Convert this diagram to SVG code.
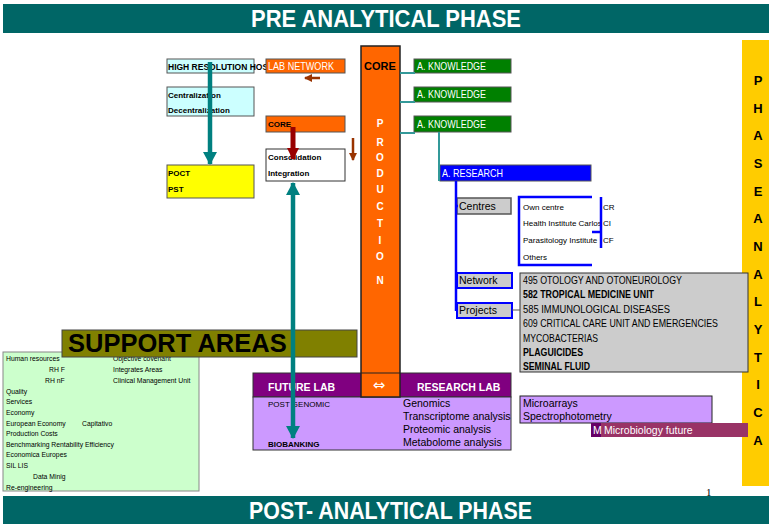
<svg xmlns="http://www.w3.org/2000/svg" width="772" height="527" viewBox="0 0 772 527">
<style>
text{font-family:"Liberation Sans",Arial,sans-serif;fill:#000}
.n{font-family:"Liberation Sans Narrow","Liberation Sans",Arial,sans-serif}
.w{fill:#fff}
.b{font-weight:bold}
.s8{font-size:8px}
.s7{font-size:6.8px}
.s10{font-size:10.5px}
.bx{stroke:#555;stroke-width:1}
.tl{stroke:#008080;stroke-width:4.5;fill:none}
.tn{stroke:#339999;stroke-width:2;fill:none}
.bl{stroke:#0000ff;stroke-width:2.5;fill:none}
.ph{font-size:13px;font-weight:bold;text-anchor:middle}
.pr{font-size:10px;font-weight:bold;text-anchor:middle;fill:#fff}
</style>
<defs>
<marker id="ta" markerUnits="userSpaceOnUse" viewBox="0 0 14 14" markerWidth="14" markerHeight="14" refX="12" refY="7" orient="auto-start-reverse"><path d="M0,0 L13,7 L0,14 Z" fill="#008080"/></marker>
<marker id="ra" markerUnits="userSpaceOnUse" viewBox="0 0 12 12" markerWidth="12" markerHeight="12" refX="11" refY="6" orient="auto"><path d="M0,0 L12,6 L0,12 Z" fill="#990000"/></marker>
<marker id="ba" markerUnits="userSpaceOnUse" viewBox="0 0 8 8" markerWidth="8" markerHeight="8" refX="7" refY="4" orient="auto"><path d="M0,0 L8,4 L0,8 Z" fill="#993300"/></marker>
</defs>

<g id="pre-banner"><rect x="3" y="4" width="766" height="29" fill="#006666"/><text x="251" y="26.5" class="w b" font-size="23" textLength="270" lengthAdjust="spacingAndGlyphs">PRE  ANALYTICAL PHASE</text></g>
<g id="post-banner"><rect x="3" y="496" width="766" height="28" fill="#006666"/><text x="249" y="518.5" class="w b" font-size="23" textLength="283" lengthAdjust="spacingAndGlyphs">POST- ANALYTICAL PHASE</text></g>
<text x="706" y="496" font-size="11" style="font-family:'Liberation Serif',serif">1</text>

<g id="phase-analytica"><rect x="742" y="40" width="27" height="446" fill="#ffcc00"/>
<text class="ph" x="758" y="85">P</text><text class="ph" x="758" y="113">H</text><text class="ph" x="758" y="140">A</text><text class="ph" x="758" y="168">S</text><text class="ph" x="758" y="196">E</text><text class="ph" x="758" y="223">A</text><text class="ph" x="758" y="251">N</text><text class="ph" x="758" y="279">A</text><text class="ph" x="758" y="306">L</text><text class="ph" x="758" y="334">Y</text><text class="ph" x="758" y="362">T</text><text class="ph" x="758" y="389">I</text><text class="ph" x="758" y="417">C</text><text class="ph" x="758" y="445">A</text></g>

<g id="high-resolution"><rect x="167" y="59" width="87" height="14" fill="#ccffff" class="bx"/><text x="168" y="70" class="b" font-size="8.5">HIGH RESOLUTION HOS</text></g>
<g id="lab-network"><rect x="266" y="59" width="79" height="14" fill="#ff6600" class="bx"/><text x="268" y="70" class="n w s10" textLength="66" lengthAdjust="spacingAndGlyphs">LAB NETWORK</text></g>
<g id="centralization"><rect x="167" y="87" width="87" height="29" fill="#ccffff" class="bx"/><text x="168" y="98" class="b s8">Centralization</text><text x="168" y="113" class="b s8">Decentralization</text></g>
<g id="core-small"><rect x="266" y="116" width="79" height="16" fill="#ff6600" class="bx"/><text x="268" y="127" class="b s8">CORE</text></g>
<g id="consolidation"><rect x="266" y="149" width="79" height="32" fill="#fff" stroke="#333"/><text x="268" y="160" class="b s8">Consolidation</text><text x="268" y="176" class="b s8">Integration</text></g>
<g id="poct"><rect x="167" y="165" width="87" height="33" fill="#ffff00" class="bx"/><text x="168" y="176" class="b s8">POCT</text><text x="168" y="192" class="b s8">PST</text></g>

<g id="support-list"><rect x="3" y="352" width="196" height="139" fill="#ccffcc" stroke="#888"/>
<text class="s7" x="6" y="361">Human resources</text><text class="s7" x="113" y="361">Objective covenant</text>
<text class="s7" x="49" y="372">RH F</text><text class="s7" x="113" y="372">Integrates Areas</text>
<text class="s7" x="45" y="383">RH nF</text><text class="s7" x="113" y="383">Clinical Management Unit</text>
<text class="s7" x="6" y="394">Quality</text>
<text class="s7" x="6" y="404">Services</text>
<text class="s7" x="6" y="415">Economy</text>
<text class="s7" x="6" y="426">European Economy</text><text class="s7" x="82" y="426">Capitativo</text>
<text class="s7" x="6" y="436">Production Costs</text>
<text class="s7" x="6" y="447">Benchmarking Rentability Efficiency</text>
<text class="s7" x="6" y="457">Economica Europes</text>
<text class="s7" x="6" y="468">SIL LIS</text>
<text class="s7" x="33" y="479">Data Minig</text>
<text class="s7" x="6" y="490">Re-engineering</text></g>
<g id="support-areas"><rect x="62" y="330" width="295" height="27" fill="#808000" stroke="#444"/><text x="68" y="352" class="b" font-size="25.5">SUPPORT AREAS</text></g>

<g id="future-lab"><rect x="253" y="373" width="258" height="24" fill="#800080" stroke="#333"/><rect x="253" y="397" width="258" height="53" fill="#cc99ff" stroke="#333"/>
<text x="268" y="391" class="w b s10">FUTURE LAB</text><text x="417" y="391" class="w b s10">RESEARCH LAB</text>
<text x="268" y="407" class="s8">POST GENOMIC</text><text x="268" y="447" class="b s8">BIOBANKING</text>
<text x="403" y="407" class="s10">Genomics</text><text x="403" y="420" class="s10">Transcriptome analysis</text><text x="403" y="433" class="s10">Proteomic analysis</text><text x="403" y="446" class="s10">Metabolome analysis</text></g>

<g id="production"><rect x="361" y="46" width="39" height="351" fill="#ff6600" stroke="#222" stroke-width="1.5"/><line x1="361" y1="373" x2="400" y2="373" stroke="#222" stroke-width="1.2"/>
<text x="380" y="70" font-size="11" class="b" text-anchor="middle">CORE</text>
<text class="pr" x="380" y="127">P</text><text class="pr" x="380" y="146">R</text><text class="pr" x="380" y="161">O</text><text class="pr" x="380" y="177">D</text><text class="pr" x="380" y="193">U</text><text class="pr" x="380" y="210">C</text><text class="pr" x="380" y="227">T</text><text class="pr" x="380" y="244">I</text><text class="pr" x="380" y="260">O</text><text class="pr" x="380" y="284">N</text>
<text x="379" y="390" class="w" font-size="15" text-anchor="middle" style="font-family:'DejaVu Sans',sans-serif">⇔</text></g>

<g id="knowledge-1"><rect x="414" y="59" width="97" height="14" fill="#008000" class="bx"/><text x="417" y="69.5" class="n w s10" textLength="69" lengthAdjust="spacingAndGlyphs">A. KNOWLEDGE</text></g>
<g id="knowledge-2"><rect x="414" y="87" width="97" height="15" fill="#008000" class="bx"/><text x="417" y="98" class="n w s10" textLength="69" lengthAdjust="spacingAndGlyphs">A. KNOWLEDGE</text></g>
<g id="knowledge-3"><rect x="414" y="116" width="97" height="16" fill="#008000" class="bx"/><text x="417" y="127.5" class="n w s10" textLength="69" lengthAdjust="spacingAndGlyphs">A. KNOWLEDGE</text></g>
<g id="research"><rect x="440" y="165" width="151" height="16" fill="#0000ff" class="bx"/><text x="442" y="177" class="n w s10" textLength="61" lengthAdjust="spacingAndGlyphs">A. RESEARCH</text></g>

<g id="centres"><rect x="457" y="198" width="54" height="16" fill="#cccccc" stroke="#555" stroke-width="1.5"/><text x="459" y="210" class="s10">Centres</text></g>
<g id="centres-list"><text x="523" y="210" class="s8">Own centre</text><text x="523" y="226" class="s8">Health Institute Carlos</text><text x="523" y="243" class="s8">Parasitology Institute</text><text x="523" y="260" class="s8">Others</text>
<text x="603" y="210" class="s8">CR</text><text x="603" y="226" class="s8">CI</text><text x="603" y="243" class="s8">CF</text></g>
<g id="network"><rect x="457" y="273" width="55" height="15" fill="#cccccc" stroke="#0000ff" stroke-width="2"/><text x="459" y="284" class="s10">Network</text></g>
<g id="projects"><rect x="457" y="303" width="55" height="15" fill="#cccccc" stroke="#0000ff" stroke-width="2"/><text x="459" y="314" class="s10">Projects</text></g>
<g id="projects-list"><rect x="520" y="273" width="228" height="99" fill="#cccccc" stroke="#333"/>
<text x="523" y="284" class="n s10" textLength="159" lengthAdjust="spacingAndGlyphs">495 OTOLOGY AND OTONEUROLOGY</text>
<text x="523" y="298" class="n b s10" textLength="131" lengthAdjust="spacingAndGlyphs">582 TROPICAL MEDICINE UNIT</text>
<text x="523" y="313" class="n s10" textLength="147" lengthAdjust="spacingAndGlyphs">585 IMMUNOLOGICAL DISEASES</text>
<text x="523" y="327" class="n s10" textLength="195" lengthAdjust="spacingAndGlyphs">609 CRITICAL CARE UNIT AND EMERGENCIES</text>
<text x="523" y="342" class="n s10" textLength="75" lengthAdjust="spacingAndGlyphs">MYCOBACTERIAS</text>
<text x="523" y="356" class="n b s10" textLength="60" lengthAdjust="spacingAndGlyphs">PLAGUICIDES</text>
<text x="523" y="370" class="n b s10" textLength="67" lengthAdjust="spacingAndGlyphs">SEMINAL FLUID</text></g>

<g id="microarrays"><rect x="520" y="396" width="192" height="27" fill="#cc99ff" stroke="#222"/><text x="523" y="407" class="s10">Microarrays</text><text x="523" y="420" class="s10">Spectrophotometry</text></g>
<g id="microbiology"><rect x="591" y="423" width="157" height="14" fill="#993366"/><rect x="591" y="423" width="10" height="14" fill="#660066"/><text x="593" y="434" class="w s10">M</text><text x="604" y="434" class="w s10">Microbiology future</text></g>

<g id="connectors">
<line x1="400" y1="73" x2="415" y2="73" class="tn"/>
<line x1="400" y1="102" x2="415" y2="102" class="tn"/>
<line x1="400" y1="133" x2="415" y2="133" class="tn"/>
<line x1="439" y1="132" x2="439" y2="181" class="tn"/>
<polyline points="456,181 456,311" class="bl"/>
<line x1="456" y1="206" x2="458" y2="206" class="bl"/>
<line x1="456" y1="280" x2="458" y2="280" class="bl"/>
<line x1="456" y1="310" x2="458" y2="310" class="bl"/>
<polyline points="592,197 519,197 519,265 592,265" class="bl"/>
<line x1="601" y1="197" x2="601" y2="248" class="bl"/>
<line x1="592" y1="232" x2="601" y2="232" class="bl"/>
<line x1="512" y1="310" x2="520" y2="310" stroke="#555" stroke-width="1"/>
<line x1="210" y1="62" x2="210" y2="164" class="tl" marker-end="url(#ta)"/>
<line x1="293" y1="183" x2="293" y2="438" class="tl" marker-start="url(#ta)" marker-end="url(#ta)"/>
<line x1="293" y1="127" x2="293" y2="159" stroke="#990000" stroke-width="5" marker-end="url(#ra)"/>
<line x1="320" y1="78" x2="305" y2="78" stroke="#993300" stroke-width="2.5" marker-end="url(#ba)"/>
<line x1="353" y1="138" x2="353" y2="160" stroke="#993300" stroke-width="2.5" marker-end="url(#ba)"/>
</g>
</svg>
